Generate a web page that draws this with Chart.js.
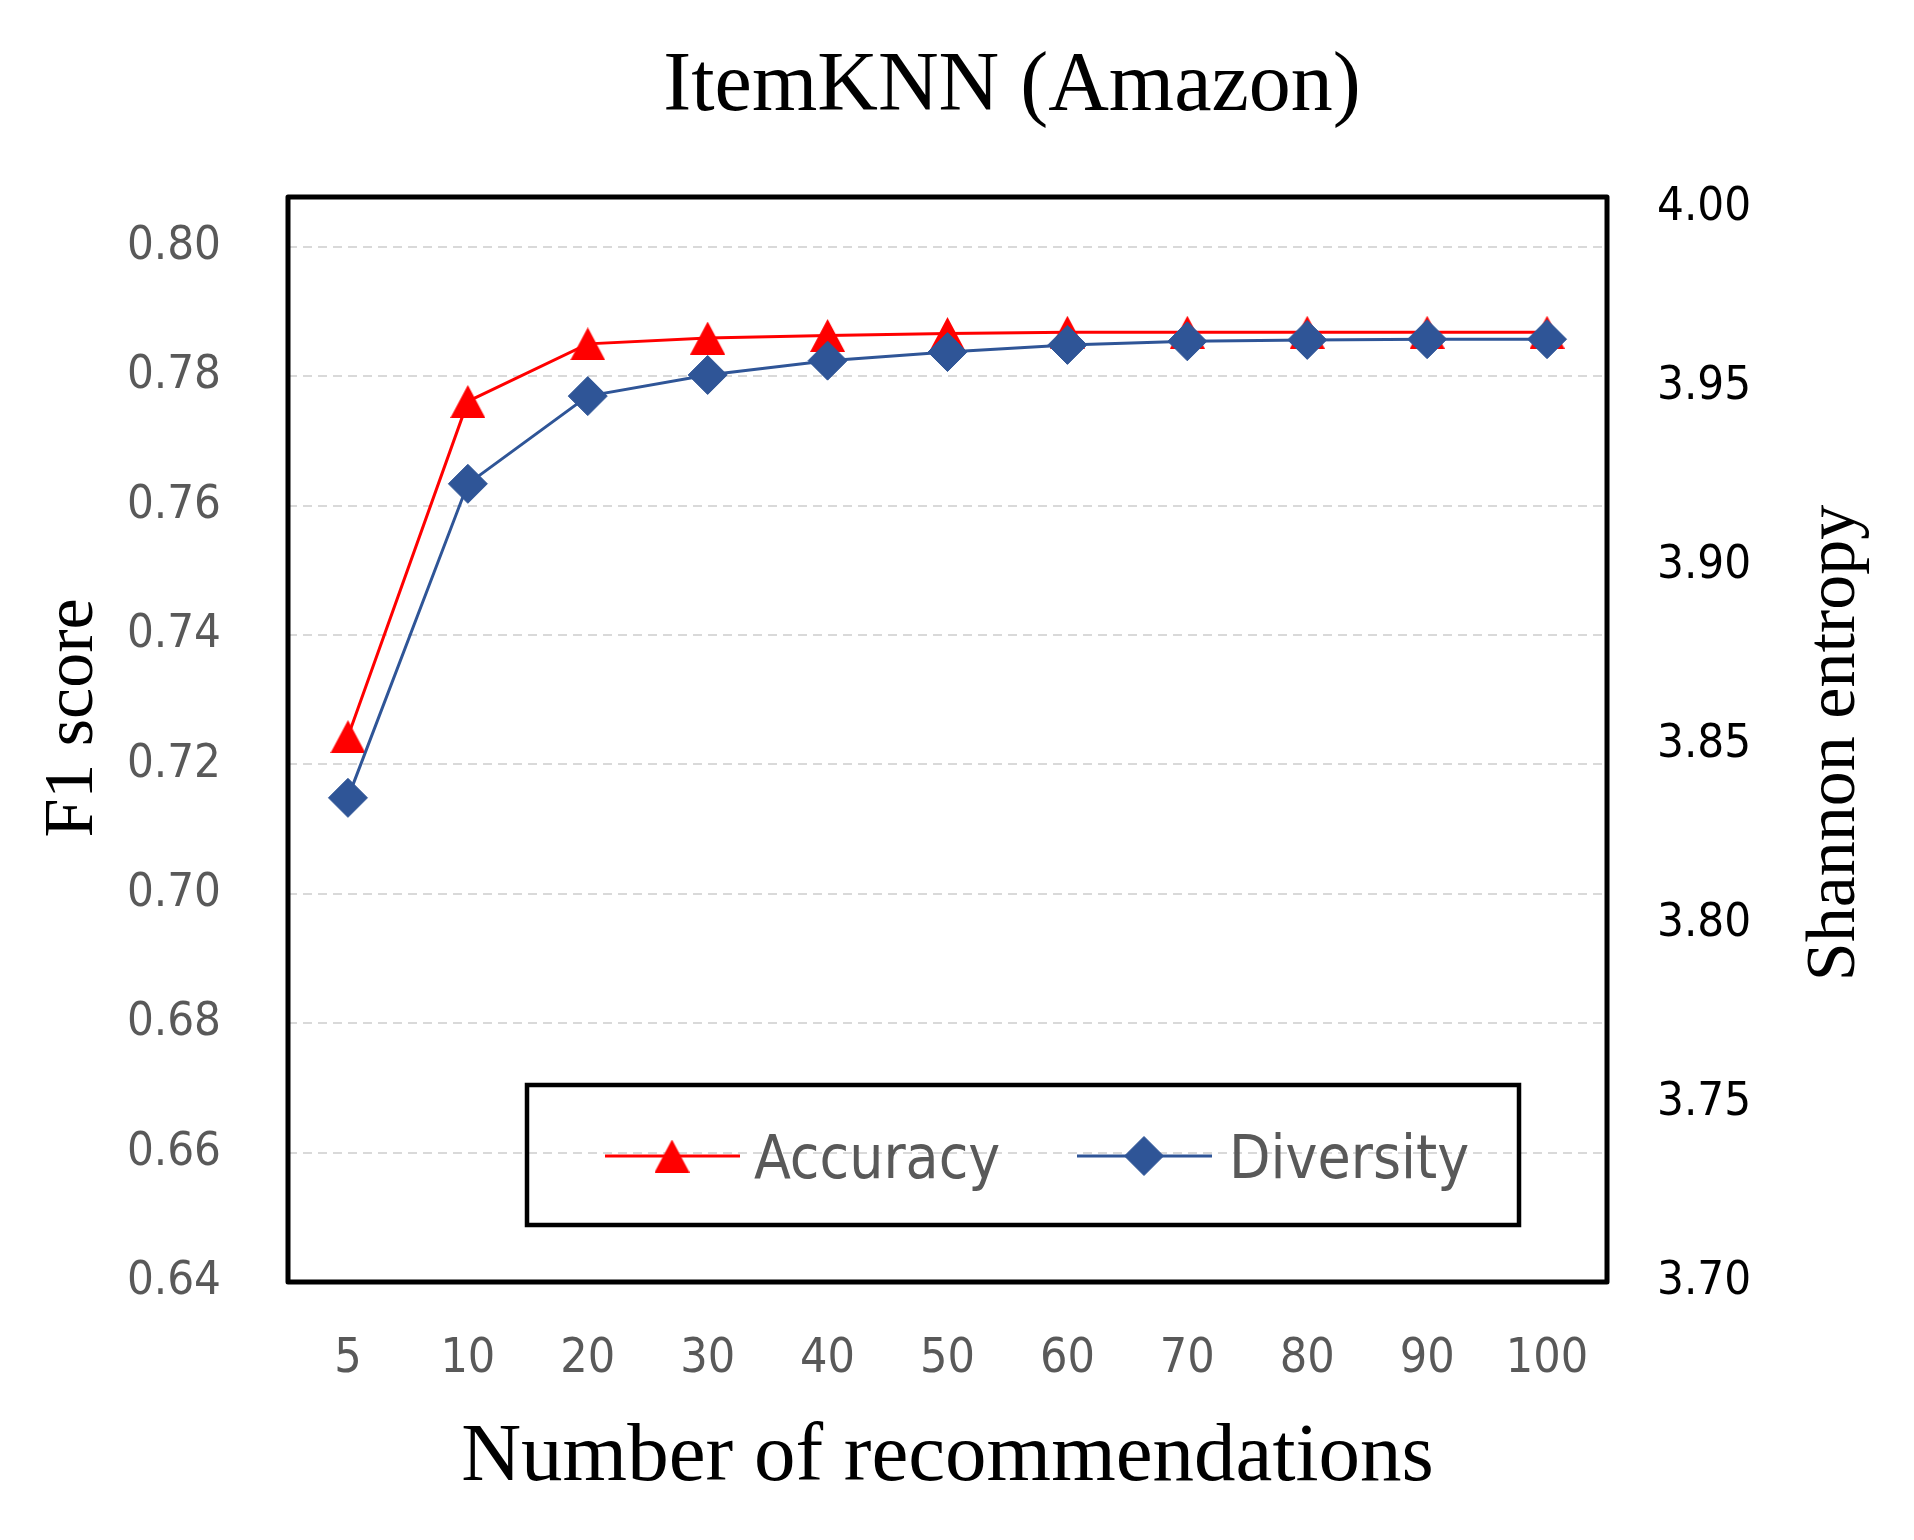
<!DOCTYPE html>
<html>
<head>
<meta charset="utf-8">
<title>ItemKNN (Amazon)</title>
<script src="https://cdn.jsdelivr.net/npm/chart.js@4.4.1/dist/chart.umd.min.js"></script>
<style>
  html, body { margin: 0; padding: 0; background: #fff; }
  #chart { display: block; }
</style>
</head>
<body>
<canvas id="chart" width="1914" height="1540"></canvas>
<script>
const recommendations = ['5', '10', '20', '30', '40', '50', '60', '70', '80', '90', '100'];
const accuracy = [0.7243, 0.7761, 0.7850, 0.7859, 0.7863, 0.7866, 0.7868, 0.7868, 0.7868, 0.7868, 0.7868];
const diversity = [3.8352, 3.9229, 3.9474, 3.9533, 3.9573, 3.9597, 3.9617, 3.9627, 3.9631, 3.9633, 3.9633];
const f1Ticks = [0.64, 0.66, 0.68, 0.70, 0.72, 0.74, 0.76, 0.78, 0.80];
const entropyTicks = [3.70, 3.75, 3.80, 3.85, 3.90, 3.95, 4.00];

const RED = '#ff0000';
const BLUE = '#2f5597';
const GREY = '#595959';
const SANS = "'DejaVu Sans Condensed', 'DejaVu Sans', sans-serif";
const SERIF = "'Liberation Serif', 'Times New Roman', serif";

// excel draws the triangle with its bounding box centred on the point
function makeTriangle(w, h, color) {
    const c = document.createElement('canvas');
    c.width = w;
    c.height = h;
    const g = c.getContext('2d');
    g.fillStyle = color;
    g.beginPath();
    g.moveTo(w / 2, 0);
    g.lineTo(w, h);
    g.lineTo(0, h);
    g.closePath();
    g.fill();
    return c;
}
const triangle = makeTriangle(35, 33, RED);

const decor = {
    id: 'decor',
    beforeDatasetsDraw(chart) {
        const { ctx, chartArea: a } = chart;
        ctx.save();
        ctx.strokeStyle = '#000';
        ctx.lineWidth = 5;
        ctx.lineJoin = 'round';
        ctx.strokeRect(a.left, a.top, a.right - a.left, a.bottom - a.top);
        ctx.restore();
    },
    afterDraw(chart) {
        const { ctx, chartArea: a } = chart;
        ctx.save();
        ctx.fillStyle = '#000';
        ctx.textAlign = 'center';
        ctx.textBaseline = 'alphabetic';

        ctx.font = '84px ' + SERIF;
        ctx.fillText('ItemKNN (Amazon)', 1012, 110);

        ctx.font = '83px ' + SERIF;
        ctx.fillText('Number of recommendations', (a.left + a.right) / 2, 1480);

        ctx.font = '70px ' + SERIF;
        ctx.save();
        ctx.translate(92, 718);
        ctx.rotate(-Math.PI / 2);
        ctx.fillText('F1 score', 0, 0);
        ctx.restore();
        ctx.save();
        ctx.translate(1854, 743);
        ctx.rotate(-Math.PI / 2);
        ctx.fillText('Shannon entropy', 0, 0);
        ctx.restore();

        // legend box, transparent like the excel one
        ctx.strokeStyle = '#000';
        ctx.lineWidth = 4.5;
        ctx.strokeRect(527, 1085, 992, 140);

        const items = [
            { label: 'Accuracy', color: RED, x: 605, text: 754, marker: 'tri' },
            { label: 'Diversity', color: BLUE, x: 1077, text: 1229, marker: 'dia' }
        ];
        const ly = 1156;
        items.forEach(it => {
            ctx.strokeStyle = it.color;
            ctx.lineWidth = 3;
            ctx.beginPath();
            ctx.moveTo(it.x, ly);
            ctx.lineTo(it.x + 135, ly);
            ctx.stroke();
            const mx = it.x + 67;
            if (it.marker === 'tri') {
                ctx.drawImage(triangle, mx - triangle.width / 2, ly - triangle.height / 2);
            } else {
                ctx.fillStyle = it.color;
                ctx.strokeStyle = it.color;
                ctx.lineWidth = 1;
                Chart.helpers.drawPoint(ctx, { pointStyle: 'rectRot', radius: 19.5, rotation: 0, borderWidth: 1 }, mx, ly);
            }
            ctx.fillStyle = GREY;
            ctx.font = '60px ' + SANS;
            ctx.textAlign = 'left';
            ctx.fillText(it.label, it.text, 1178);
        });
        ctx.restore();
    }
};

new Chart(document.getElementById('chart'), {
    type: 'line',
    data: {
        labels: recommendations,
        datasets: [
            {
                label: 'Accuracy',
                data: accuracy,
                yAxisID: 'y',
                borderColor: RED,
                backgroundColor: RED,
                borderWidth: 3,
                pointStyle: triangle,
                pointRadius: 18,
                pointHoverRadius: 18,
                tension: 0,
                order: 1
            },
            {
                label: 'Diversity',
                data: diversity,
                yAxisID: 'y1',
                borderColor: BLUE,
                backgroundColor: BLUE,
                borderWidth: 3,
                pointStyle: 'rectRot',
                pointRadius: 19.5,
                pointHoverRadius: 19.5,
                pointBorderWidth: 1,
                tension: 0,
                order: 0
            }
        ]
    },
    options: {
        responsive: false,
        devicePixelRatio: 1,
        animation: false,
        events: [],
        layout: { padding: { top: 197, left: 0, right: 0, bottom: 0 } },
        plugins: {
            legend: { display: false },
            title: { display: false },
            tooltip: { enabled: false }
        },
        scales: {
            x: {
                offset: true,
                grid: { display: false, drawTicks: false },
                border: { display: false },
                ticks: {
                    color: GREY,
                    font: { family: SANS, size: 48 },
                    padding: 49,
                    maxRotation: 0,
                    autoSkip: false
                },
                afterFit: s => { s.height = 258; }
            },
            y: {
                position: 'left',
                min: 0.64,
                max: 0.8077,
                grid: { color: '#d9d9d9', lineWidth: 2, drawTicks: false },
                border: { display: false, dash: [9, 6] },
                ticks: {
                    color: GREY,
                    font: { family: SANS, size: 47 },
                    padding: 67,
                    callback: v => v.toFixed(2)
                },
                afterBuildTicks: s => { s.ticks = f1Ticks.map(v => ({ value: v })); },
                afterFit: s => { s.width = 288; }
            },
            y1: {
                position: 'right',
                min: 3.70,
                max: 4.003,
                grid: { display: false, drawTicks: false },
                border: { display: false },
                ticks: {
                    color: '#000',
                    font: { family: SANS, size: 47 },
                    padding: 50,
                    callback: v => v.toFixed(2)
                },
                afterBuildTicks: s => { s.ticks = entropyTicks.map(v => ({ value: v })); },
                afterFit: s => { s.width = 307; }
            }
        }
    },
    plugins: [decor]
});
</script>
</body>
</html>
